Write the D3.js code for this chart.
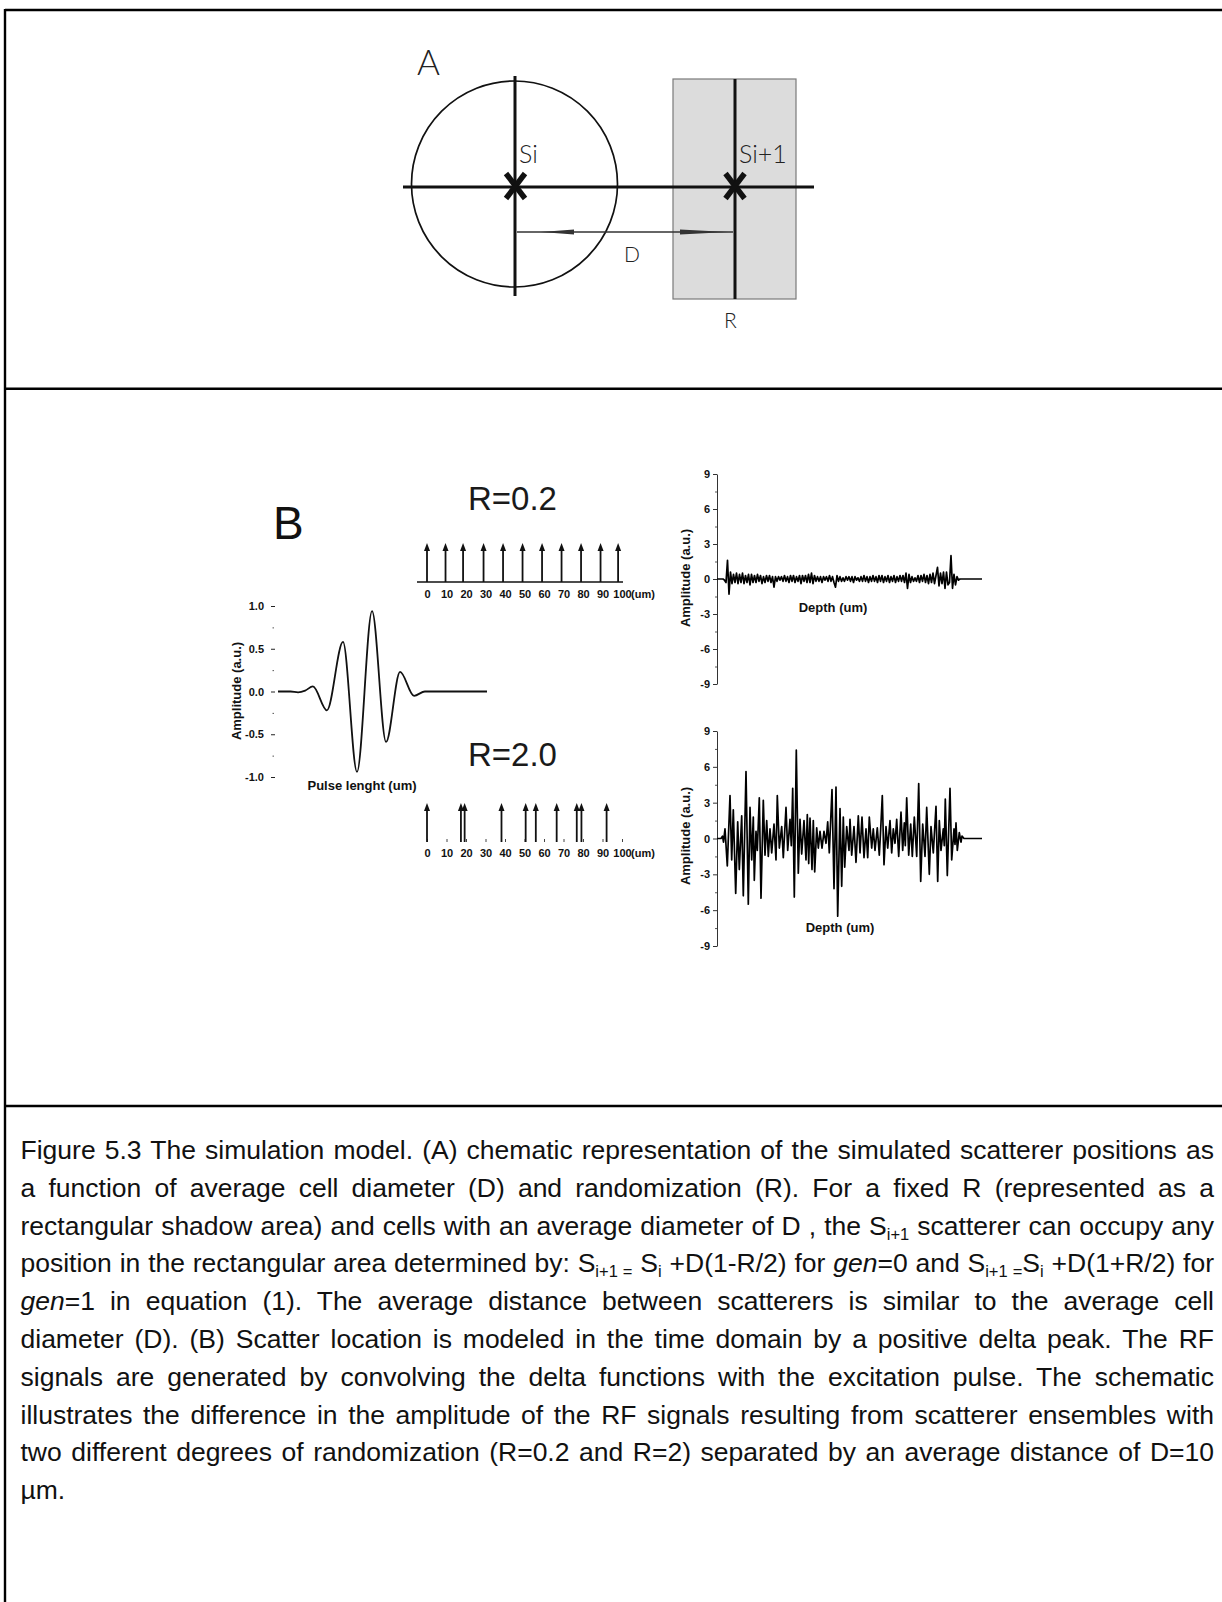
<!DOCTYPE html>
<html>
<head>
<meta charset="utf-8">
<script src="https://cdn.jsdelivr.net/npm/d3@7"></script>
<style>
  body { margin: 0; background: #fff; }
  svg { display: block; }
</style>
</head>
<body>
<svg id="fig" width="1222" height="1602"></svg>
<script>
// ---------------- data ----------------
// excitation pulse: [position along pulse (a.u.), amplitude]
const pulsePoints = [[0,0],[6,0],[9.6,-0.01],[13,0.01],[16.7,0.06],[23.4,-0.22],[31.1,0.58],
  [37.8,-0.94],[45,0.94],[51.7,-0.59],[58.4,0.23],[65.1,-0.05],[70.3,0],[100,0]];
const pulseTicks = [-1, -0.5, 0, 0.5, 1];
const pulseMinorTicks = [-0.75, -0.25, 0.25, 0.75];

// scatterer (delta) positions in um
const deltaTicks = [0,10,20,30,40,50,60,70,80,90,100];
const scatterersR02 = [0, 9.5, 18.5, 29, 39, 49, 59, 69, 79, 89, 98];
const scatterersR20 = [0, 17.4, 19.3, 38.2, 50.6, 55.8, 66.5, 76.8, 79.2, 92.1];

// RF amplitude axis
const rfTicks = [-9, -6, -3, 0, 3, 6, 9];
const rfMinorTicks = [-7.5, -4.5, -1.5, 1.5, 4.5, 7.5];
const depthMax = 265;

// RF signal for R=0.2, sampled every rfR02Step depth units
const rfR02Step = 1.5;
const rfR02 = [0,0,0,0,0,-0.1,-0.3,1.6,-1.3,0.6,-0.4,0.4,-0.3,0.5,-0.4,0.4,-0.3,0.5,-0.4,0.3,
  -0.3,0.4,-0.5,0.4,-0.3,0.3,-0.3,0.4,-0.2,0.3,-0.4,0.2,-0.3,0.3,-0.2,0.3,-0.3,0.2,-0.7,0.2,
  -0.2,0.2,-0.1,0.2,-0.2,0.3,-0.2,0.2,-0.3,0.3,-0.2,0.3,-0.3,0.2,-0.2,0.3,-0.4,0.3,-0.2,0.3,
  -0.3,0.4,-0.3,0.5,-0.4,0.3,-0.2,0.2,-0.2,0.2,-0.3,0.2,-0.1,0.2,-0.2,0.3,-0.2,0.2,-0.3,-0.7,
  0.3,-0.2,0.2,-0.2,0.1,-0.2,0.2,-0.1,0.2,-0.2,0.2,-0.3,0.2,-0.1,0.1,-0.2,0.2,-0.2,0.3,-0.2,
  0.2,-0.3,0.2,-0.2,0.3,-0.2,0.2,-0.3,0.3,-0.2,0.3,-0.3,0.2,-0.2,0.3,-0.3,0.2,-0.2,0.3,-0.3,
  0.2,-0.2,0.3,-0.2,0.3,-0.3,0.5,-0.8,0.4,-0.3,0.2,-0.2,0.1,-0.2,0.3,-0.3,0.3,-0.2,0.4,-0.3,
  0.3,-0.4,0.4,-0.3,0.5,-0.4,0.3,1.0,-0.6,0.5,-0.4,0.6,-0.8,0.6,-0.5,-0.3,2.0,-0.8,0.4,-0.5,
  0.2,-0.1,0];

// RF signal for R=2.0: [depth, amplitude]
const rfR20 = [[0,0],[4,0],[5.5,0.2],[6.5,-0.3],[8,0.8],[10.3,-2.3],[13,3.6],[14.7,-1.8],[16.3,2.4],
  [18.7,-4.6],[20.7,1.4],[22.3,-2.6],[24.7,1.9],[26.3,-4.8],[29,5.6],[31.3,-5.5],[33,2.6],
  [34.7,-1.8],[36.3,1.8],[37.3,-3.5],[39,0.6],[40.3,-1.0],[42.3,3.4],[44,-5.0],[46.3,3.2],
  [48,-1.4],[49.7,1.5],[51.3,-1.5],[53,0.8],[54.7,-1.2],[57,1.2],[59,-1.8],[60.3,3.6],
  [62.3,-0.8],[64.7,1.0],[66.3,-1.6],[69,2.6],[70.7,-1.0],[73,1.6],[74.3,-0.6],[75.7,4.2],[77.3,-4.9],
  [79.3,7.4],[81.3,-2.9],[83,1.6],[84.7,-1.3],[87,1.5],[89,-1.8],[90.3,2.0],[91.7,-2.1],
  [93,1.7],[95,-2.6],[96.3,1.5],[97.7,-2.8],[99.7,0.9],[101.3,-0.8],[103,0.6],[105,-0.8],
  [107,0.6],[109,-0.4],[110.7,1.4],[112.3,-1.2],[115,4.1],[117,-4.2],[119,4.3],[120.7,-6.5],
  [123,2.5],[124.7,-4.0],[126.3,1.8],[127.7,-2.4],[129.7,1.0],[132,-1.0],[133,1.6],[134.7,-1.4],
  [137,1.0],[139,-2.0],[141.3,1.9],[143,-1.2],[145,1.8],[147,-1.6],[149,0.8],[150.7,-1.6],
  [152.3,1.8],[154.7,-0.8],[156.3,0.8],[158,-1.0],[160.3,0.9],[162.3,-1.4],[163.7,0.8],
  [165.3,3.6],[167,-2.2],[169,1.0],[170.7,-0.8],[173,1.5],[174.7,-1.2],[176.3,0.8],[178,-0.4],
  [179.7,1.6],[181.7,-1.5],[184,2.2],[185.7,-1.0],[187.3,1.3],[188.3,-0.6],[189.7,3.4],
  [191.7,-1.4],[193.7,1.2],[195.3,-1.5],[197.3,1.8],[199.7,-1.5],[201.7,4.6],[203.7,-3.6],
  [205.7,1.2],[208,-1.5],[209.7,2.6],[212.3,-3.0],[214,1.0],[216.3,-1.2],[219,2.7],[220.7,-3.6],
  [222.3,1.5],[224,-1.0],[226.3,0.8],[227.3,-0.6],[228.3,3.3],[230.3,-3.1],[233,4.2],[234.7,-1.8],
  [237,0.8],[238,-0.5],[239,1.3],[240.3,-1.0],[242.3,0.5],[244,-0.3],[245,0.2],[247,0],[265,0]];

// caption: each line is a list of [text, style] runs
const captionLines = [
  [["Figure 5.3 The simulation model. (A) chematic representation of the simulated scatterer positions as",""]],
  [["a function of average cell diameter (D) and randomization (R). For a fixed R (represented as a",""]],
  [["rectangular shadow area) and cells with an average diameter of D , the S",""],["i+1","sub"],[" scatterer can occupy any",""]],
  [["position in the rectangular area determined by: S",""],["i+1 =","sub"],[" S",""],["i","sub"],[" +D(1-R/2) for ",""],["gen","it"],["=0 and S",""],["i+1 =","sub"],["S",""],["i","sub"],[" +D(1+R/2) for",""]],
  [["gen","it"],["=1 in equation (1). The average distance between scatterers is similar to the average cell",""]],
  [["diameter (D). (B) Scatter location is modeled in the time domain by a positive delta peak. The RF",""]],
  [["signals are generated by convolving the delta functions with the excitation pulse. The schematic",""]],
  [["illustrates the difference in the amplitude of the RF signals resulting from scatterer ensembles with",""]],
  [["two different degrees of randomization (R=0.2 and R=2) separated by an average distance of D=10",""]],
  [["\u00b5m.",""]]
];

// ---------------- drawing ----------------
const svg = d3.select("#fig");
svg.append("rect").attr("width", 1222).attr("height", 1602).attr("fill", "#fff");

const sans = "'Liberation Sans', Arial, Helvetica, sans-serif";
const light = "Lato, 'Open Sans', 'DejaVu Sans', sans-serif";
// plain hyphen for negative tick values
const hyphen = fmt => d => fmt(d).replace("\u2212", "-");

// ===== Panel A: scatterer geometry =====
const gA = svg.append("g").attr("class", "panel-a");
gA.append("rect").attr("x", 673).attr("y", 79).attr("width", 123).attr("height", 220)
  .attr("fill", "#dcdcdc").attr("stroke", "#7a7a7a").attr("stroke-width", 1.2);
gA.append("circle").attr("cx", 514.5).attr("cy", 184).attr("r", 103)
  .attr("fill", "none").attr("stroke", "#111").attr("stroke-width", 1.7);
const thick = (x1, y1, x2, y2, w, c) => gA.append("line")
  .attr("x1", x1).attr("y1", y1).attr("x2", x2).attr("y2", y2)
  .attr("stroke", c || "#111").attr("stroke-width", w);
thick(403, 187, 814, 187, 3);
thick(515, 76, 515, 296, 3);
thick(735, 79, 735, 299, 3);
// scatterer crosses
[[515.5, 186], [735, 186]].forEach(([cx, cy]) => {
  thick(cx - 9.5, cy - 12.5, cx + 9.5, cy + 12.5, 5.5);
  thick(cx + 9.5, cy - 12.5, cx - 9.5, cy + 12.5, 5.5);
});
// distance D indicator
thick(517, 232, 733, 232, 1.6, "#333");
gA.append("polygon").attr("points", "541,232 574,229.6 574,234.4").attr("fill", "#333");
gA.append("polygon").attr("points", "680,229.6 680,234.4 728,232").attr("fill", "#333");

const labA = (txt, x, y, size) => gA.append("text").attr("x", x).attr("y", y)
  .attr("font-family", light).attr("font-weight", 300).attr("font-size", size)
  .attr("fill", "#222").text(txt);
labA("A", 417, 75, 35);
labA("Si", 519, 163, 25);
labA("Si+1", 739, 163, 25);
labA("D", 624, 262, 21);
labA("R", 724, 328, 21);

// ===== Panel B =====
const gB = svg.append("g").attr("class", "panel-b");
gB.append("text").attr("x", 273).attr("y", 539).attr("font-family", sans)
  .attr("font-size", 46).attr("fill", "#111").text("B");

// --- excitation pulse ---
const xPulse = d3.scaleLinear().domain([0, 100]).range([278, 487]);
const yPulse = d3.scaleLinear().domain([-1, 1]).range([777, 606]);
const tickFont = g => g.selectAll("text").attr("font-family", sans)
  .attr("font-weight", "bold").attr("font-size", 11).attr("fill", "#111");

const pAxis = gB.append("g").attr("transform", "translate(275,0)")
  .call(d3.axisLeft(yPulse).tickValues(pulseTicks).tickFormat(hyphen(d3.format(".1f")))
    .tickSize(4).tickPadding(7));
pAxis.select(".domain").remove();
pAxis.call(tickFont);
pAxis.selectAll("line").attr("stroke", "#222");
const pMinor = gB.append("g").attr("transform", "translate(274,0)")
  .call(d3.axisLeft(yPulse).tickValues(pulseMinorTicks).tickFormat("").tickSize(1.5));
pMinor.select(".domain").remove();
pMinor.selectAll("line").attr("stroke", "#555");

gB.append("path").datum(pulsePoints)
  .attr("d", d3.line().x(d => xPulse(d[0])).y(d => yPulse(d[1])).curve(d3.curveMonotoneX))
  .attr("fill", "none").attr("stroke", "#111").attr("stroke-width", 1.8);

const boldLabel = (txt, x, y, rot) => {
  const t = gB.append("text").attr("font-family", sans).attr("font-weight", "bold")
    .attr("font-size", 13).attr("fill", "#111").attr("text-anchor", "middle").text(txt);
  if (rot) t.attr("transform", `translate(${x},${y}) rotate(-90)`);
  else t.attr("x", x).attr("y", y);
  return t;
};
boldLabel("Amplitude (a.u.)", 241, 691, true);
boldLabel("Pulse lenght (um)", 362, 790, false);

// --- scatterer positions (delta trains) ---
const xDelta = d3.scaleLinear().domain([0, 100]).range([427, 622]);
function deltaTrain(positions, baseY, title, titleY, withLine) {
  gB.append("text").attr("x", 468).attr("y", titleY).attr("font-family", sans)
    .attr("font-size", 33).attr("fill", "#1a1a1a").text(title);
  const ax = gB.append("g").attr("transform", `translate(0,${baseY})`)
    .call(d3.axisBottom(xDelta).tickValues(deltaTicks).tickSize(withLine ? 0 : -3)
      .tickSizeOuter(0).tickPadding(withLine ? 8 : 7));
  ax.call(tickFont);
  ax.selectAll("line").attr("stroke", "#444");
  if (withLine) ax.select(".domain").attr("stroke", "#111").attr("stroke-width", 1.3)
    .attr("d", `M${xDelta(0) - 10},0H${xDelta(100) + 1}`);
  else ax.select(".domain").remove();
  gB.append("text").attr("x", xDelta(100) + 9).attr("y", baseY + (withLine ? 16 : 15))
    .attr("font-family", sans).attr("font-weight", "bold").attr("font-size", 11)
    .attr("fill", "#111").text("(um)");
  const arr = gB.append("g");
  positions.forEach(p => {
    const x = xDelta(p);
    arr.append("line").attr("x1", x).attr("x2", x).attr("y1", baseY).attr("y2", baseY - 33)
      .attr("stroke", "#111").attr("stroke-width", 1.8);
    arr.append("polygon")
      .attr("points", `${x - 3},${baseY - 31} ${x + 3},${baseY - 31} ${x},${baseY - 39}`)
      .attr("fill", "#111");
  });
}
deltaTrain(scatterersR02, 582, "R=0.2", 510, true);
deltaTrain(scatterersR20, 842, "R=2.0", 766, false);

// --- RF signals ---
const xDepth = d3.scaleLinear().domain([0, depthMax]).range([717, 982]);
function rfPlot(series, yRange, depthY, labelY) {
  const y = d3.scaleLinear().domain([-9, 9]).range(yRange);
  const ax = gB.append("g").attr("transform", "translate(717,0)")
    .call(d3.axisLeft(y).tickValues(rfTicks).tickFormat(hyphen(d3.format("d")))
      .tickSize(4).tickSizeOuter(0).tickPadding(3));
  ax.call(tickFont);
  ax.selectAll("line").attr("stroke", "#333");
  ax.select(".domain").attr("stroke", "#333").attr("stroke-width", 1);
  const mn = gB.append("g").attr("transform", "translate(717,0)")
    .call(d3.axisLeft(y).tickValues(rfMinorTicks).tickFormat("").tickSize(2));
  mn.select(".domain").remove();
  mn.selectAll("line").attr("stroke", "#555");
  gB.append("path").datum(series)
    .attr("d", d3.line().x(d => xDepth(d[0])).y(d => y(d[1])))
    .attr("fill", "none").attr("stroke", "#000").attr("stroke-width", 1.7)
    .attr("stroke-linejoin", "round");
  boldLabel("Depth (um)", depthY[0], depthY[1], false);
  boldLabel("Amplitude (a.u.)", 690, labelY, true);
}
const r02Series = rfR02.map((v, i) => [i * rfR02Step, v]).concat([[depthMax, 0]]);
rfPlot(r02Series, [684, 474], [833, 612], 578);
rfPlot(rfR20, [946, 731], [840, 932], 836);

// ===== Caption =====
const capLeft = 20.5, capRight = 1214, capTop = 1159, capLead = 37.8;
const cap = svg.append("g").attr("font-family", sans).attr("font-size", 26.5).attr("fill", "#111");
captionLines.forEach((runs, i) => {
  const t = cap.append("text").attr("x", capLeft).attr("y", capTop + i * capLead);
  let shift = 0;
  runs.forEach(([s, kind]) => {
    const ts = t.append("tspan").text(s);
    const want = kind === "sub" ? 5 : 0;
    if (want !== shift) { ts.attr("dy", want - shift); shift = want; }
    if (kind === "sub") ts.attr("font-size", 16.5);
    if (kind === "it") ts.attr("font-style", "italic");
  });
  if (i < captionLines.length - 1) {
    const len = t.node().getComputedTextLength();
    const gaps = (t.text().match(/ /g) || []).length;
    t.style("word-spacing", ((capRight - capLeft - len) / gaps) + "px");
  }
});

// ===== frame =====
const frame = svg.append("g").attr("stroke", "#000").attr("stroke-width", 2.4);
frame.append("line").attr("x1", 5).attr("x2", 1222).attr("y1", 10).attr("y2", 10);
frame.append("line").attr("x1", 5).attr("x2", 5).attr("y1", 9).attr("y2", 1602);
frame.append("line").attr("x1", 5).attr("x2", 1222).attr("y1", 388.7).attr("y2", 388.7);
frame.append("line").attr("x1", 5).attr("x2", 1222).attr("y1", 1106).attr("y2", 1106);
</script>
</body>
</html>
